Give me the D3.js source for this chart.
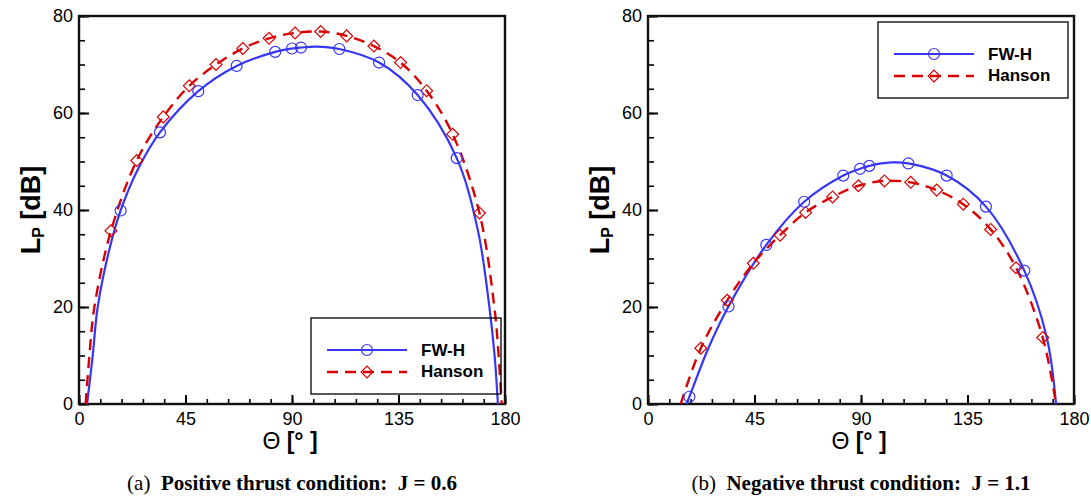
<!DOCTYPE html>
<html lang="en">
<script src='https://d3js.org/d3.v7.min.js'></script>
<style>
  body { margin: 0; background: #fff; }
  text { font-family: "Liberation Sans", Arial, sans-serif; }
</style>
<body>
<svg width=1091 height=496></svg>
<script>
    // tick labels
    var thetaTicks = [0, 45, 90, 135, 180];
    var lpTicks = [0, 20, 40, 60, 80];

    // (a) J = 0.6 : curve points [deg], [dB]
    var fwhA_theta = [3.4, 5.8, 7.9, 12.8, 17.6, 25, 34.2, 50.4, 66.6, 82.9, 90.0, 93.8, 100, 110, 126.8, 143.1, 159.6, 168.5, 173.4, 175.6, 177.0];
    var fwhA_lp    = [0, 10, 20, 31.8, 39.9, 48.5, 56.0, 64.5, 69.7, 72.6, 73.3, 73.5, 73.7, 73.2, 70.4, 63.7, 50.7, 35.9, 20, 10, 0];
    var hanA_theta = [2.8, 4.4, 6.5, 13.5, 24.4, 35.6, 46.6, 57.9, 69.2, 80.3, 91.3, 102.1, 113.1, 124.6, 135.9, 146.9, 157.9, 169.2, 175.5, 177.3, 178.6];
    var hanA_lp    = [0, 10, 20, 35.7, 50.2, 59.2, 65.6, 70.0, 73.3, 75.4, 76.5, 76.8, 75.9, 73.8, 70.4, 64.6, 55.6, 39.4, 20, 10, 0];
    // (a) symbols
    var fwhA_symTheta = [17.6, 34.2, 50.4, 66.6, 82.9, 90.0, 93.8, 110, 126.8, 143.1, 159.6];
    var fwhA_symLp    = [39.9, 56.0, 64.5, 69.7, 72.6, 73.3, 73.5, 73.2, 70.4, 63.7, 50.7];
    var hanA_symTheta = [13.5, 24.4, 35.6, 46.6, 57.9, 69.2, 80.3, 91.3, 102.1, 113.1, 124.6, 135.9, 146.9, 157.9, 169.2];
    var hanA_symLp    = [35.7, 50.2, 59.2, 65.6, 70.0, 73.3, 75.4, 76.5, 76.8, 75.9, 73.8, 70.4, 64.6, 55.6, 39.4];

    // (b) J = 1.1
    var fwhB_theta = [16.3, 17.5, 25.5, 34.0, 50.0, 66.0, 82.5, 89.6, 93.5, 103, 110, 126.2, 142.8, 159.0, 168.5, 172.4];
    var fwhB_lp    = [0, 1.5, 11.5, 20.1, 32.8, 41.7, 47.1, 48.5, 49.1, 49.8, 49.6, 47.1, 40.7, 27.5, 13.7, 0];
    var hanB_theta = [13.8, 22.3, 33.5, 44.5, 55.8, 66.6, 78.0, 88.9, 99.9, 111.0, 122.0, 133.2, 144.8, 155.5, 166.8, 172.4];
    var hanB_lp    = [0, 11.5, 21.4, 29.0, 34.8, 39.5, 42.7, 45.0, 46.0, 45.7, 44.1, 41.2, 36.0, 28.1, 13.7, 0];
    var fwhB_symTheta = [17.5, 34.0, 50.0, 66.0, 82.5, 89.6, 93.5, 110, 126.2, 142.8, 159.0];
    var fwhB_symLp    = [1.5, 20.1, 32.8, 41.7, 47.1, 48.5, 49.1, 49.6, 47.1, 40.7, 27.5];
    var hanB_symTheta = [22.3, 33.5, 44.5, 55.8, 66.6, 78.0, 88.9, 99.9, 111.0, 122.0, 133.2, 144.8, 155.5, 166.8];
    var hanB_symLp    = [11.5, 21.4, 29.0, 34.8, 39.5, 42.7, 45.0, 46.0, 45.7, 44.1, 41.2, 36.0, 28.1, 13.7];

    var seriesNames = ["FW-H", "Hanson"];
    var captions = [["(a)", "\u00a0\u00a0Positive thrust condition:\u00a0\u00a0J = 0.6"],
                    ["(b)", "\u00a0\u00a0Negative thrust condition:\u00a0\u00a0J = 1.1"]];

    var svg = d3.select("svg");
    var plotW = 426, plotTop = 16, plotBottom = 404;
    var blue = "#3636f6", red = "#d80000";

    function panel(x0, fwhT, fwhL, fwhST, fwhSL, hanT, hanL, hanST, hanSL, legX, legY, cap) {
        var x = d3.scaleLinear().domain([0, 180]).range([x0, x0 + plotW]);
        var y = d3.scaleLinear().domain([0, 80]).range([plotBottom, plotTop]);
        var g = svg.append("g");

        // minor ticks (inward)
        g.append("g").attr("transform", "translate(0," + plotBottom + ")")
            .call(d3.axisBottom(x).tickValues(d3.range(0, 181, 9)).tickSize(-5).tickFormat(""))
            .call(function (s) { s.select(".domain").remove(); });
        g.append("g").attr("transform", "translate(" + x0 + ",0)")
            .call(d3.axisLeft(y).tickValues(d3.range(0, 81, 5)).tickSize(-6).tickFormat(""))
            .call(function (s) { s.select(".domain").remove(); });

        // major ticks + labels
        var ax = g.append("g").attr("transform", "translate(0," + plotBottom + ")")
            .call(d3.axisBottom(x).tickValues(thetaTicks).tickSize(-9).tickSizeOuter(0).tickPadding(8));
        var ay = g.append("g").attr("transform", "translate(" + x0 + ",0)")
            .call(d3.axisLeft(y).tickValues(lpTicks).tickSize(-10).tickSizeOuter(0).tickPadding(6));
        [ax, ay].forEach(function (a) {
            a.attr("font-family", null).attr("font-size", null);
            a.selectAll(".domain").remove();
            a.selectAll("text").attr("font-size", 18).attr("fill", "#000");
        });
        g.selectAll("line").attr("stroke", "#000").attr("stroke-width", 1.6);
        ax.selectAll("line").attr("stroke-width", 2);
        ay.selectAll("line").attr("stroke-width", 2);

        // frame
        g.append("rect")
            .attr("x", x0).attr("y", plotTop)
            .attr("width", plotW).attr("height", plotBottom - plotTop)
            .attr("fill", "none").attr("stroke", "#111").attr("stroke-width", 2.4);

        var line = d3.line()
            .x(function (p) { return x(p[0]); })
            .y(function (p) { return y(p[1]); })
            .curve(d3.curveCatmullRom.alpha(0.5));

        g.append("path").datum(d3.zip(fwhT, fwhL)).attr("d", line)
            .attr("fill", "none").attr("stroke", blue).attr("stroke-width", 2.2);
        g.append("path").datum(d3.zip(hanT, hanL)).attr("d", line)
            .attr("fill", "none").attr("stroke", red).attr("stroke-width", 2.4)
            .attr("stroke-dasharray", "11,7");

        var diamond = d3.symbol().type(d3.symbolSquare).size(70);
        g.selectAll(".han").data(d3.zip(hanST, hanSL)).enter().append("path")
            .attr("d", diamond)
            .attr("transform", function (p) { return "translate(" + x(p[0]) + "," + y(p[1]) + ") rotate(45)"; })
            .attr("fill", "none").attr("stroke", red).attr("stroke-width", 1.2);
        g.selectAll(".fwh").data(d3.zip(fwhST, fwhSL)).enter().append("circle")
            .attr("cx", function (p) { return x(p[0]); })
            .attr("cy", function (p) { return y(p[1]); })
            .attr("r", 5.5)
            .attr("fill", "none").attr("stroke", blue).attr("stroke-width", 1.2);

        // legend
        var lg = g.append("g").attr("transform", "translate(" + legX + "," + legY + ")");
        lg.append("rect").attr("width", 190).attr("height", 76)
            .attr("fill", "none").attr("stroke", "#000").attr("stroke-width", 1.3);
        lg.append("line").attr("x1", 16).attr("x2", 96).attr("y1", 32).attr("y2", 32)
            .attr("stroke", blue).attr("stroke-width", 2.2);
        lg.append("circle").attr("cx", 56).attr("cy", 32).attr("r", 5.5)
            .attr("fill", "none").attr("stroke", blue).attr("stroke-width", 1.2);
        lg.append("line").attr("x1", 16).attr("x2", 96).attr("y1", 54).attr("y2", 54)
            .attr("stroke", red).attr("stroke-width", 2.4).attr("stroke-dasharray", "11,7");
        lg.append("path").attr("d", diamond).attr("transform", "translate(56,54) rotate(45)")
            .attr("fill", "none").attr("stroke", red).attr("stroke-width", 1.2);
        lg.selectAll(".lt").data(seriesNames).enter().append("text")
            .attr("x", 110).attr("y", function (d, i) { return 38 + i * 21; })
            .attr("font-size", 17).attr("font-weight", "bold").text(function (d) { return d; });

        // axis titles
        var yl = g.append("text")
            .attr("transform", "translate(" + (x0 - 39) + ",210) rotate(-90)")
            .attr("text-anchor", "middle").attr("font-size", 27).attr("font-weight", "bold");
        yl.append("tspan").text("L");
        yl.append("tspan").attr("font-size", 16).attr("dy", 4).text("P");
        yl.append("tspan").attr("dy", -4).text("\u00a0[dB]");

        var xl = g.append("text")
            .attr("x", x0 + plotW / 2 - 2).attr("y", 449)
            .attr("text-anchor", "middle").attr("font-size", 23);
        xl.append("tspan").text("\u0398");
        xl.append("tspan").attr("font-weight", "bold").text("\u00a0[\u00b0\u00a0]");

        // caption
        var ct = g.append("text")
            .attr("x", x0 + plotW / 2).attr("y", 490)
            .attr("text-anchor", "middle").attr("font-size", 21)
            .style("font-family", "'Liberation Serif', 'Times New Roman', serif");
        ct.append("tspan").text(cap[0]);
        ct.append("tspan").attr("font-weight", "bold").text(cap[1]);
    }

    panel(79, fwhA_theta, fwhA_lp, fwhA_symTheta, fwhA_symLp,
          hanA_theta, hanA_lp, hanA_symTheta, hanA_symLp, 311, 318, captions[0]);
    panel(648, fwhB_theta, fwhB_lp, fwhB_symTheta, fwhB_symLp,
          hanB_theta, hanB_lp, hanB_symTheta, hanB_symLp, 878, 22, captions[1]);
</script>
</body>
</html>
